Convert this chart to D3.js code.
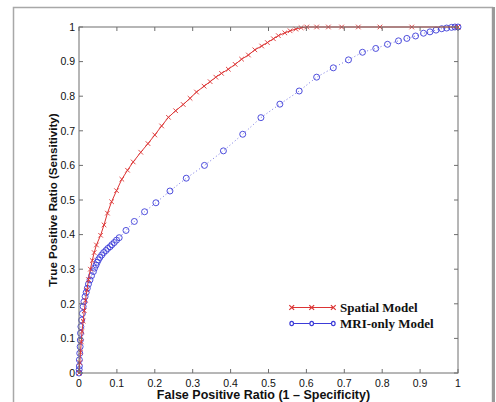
<!DOCTYPE html>
<html><head><meta charset="utf-8">
<script src="https://cdn.jsdelivr.net/npm/d3@7"></script>
<style>body{margin:0;background:#fff}svg{display:block}</style>
</head><body>
<svg id="c" width="496" height="402"></svg>
<script>
const spatialFPR = [0,0.002,0.004,0.006,0.008,0.011,0.014,0.017,0.021,0.025,0.03,0.035,0.04,0.046,0.057,0.066,0.075,0.086,0.099,0.113,0.128,0.143,0.163,0.182,0.2,0.218,0.236,0.255,0.275,0.293,0.31,0.33,0.346,0.361,0.376,0.394,0.412,0.429,0.447,0.464,0.482,0.497,0.513,0.526,0.543,0.557,0.572,0.586,0.601,0.627,0.658,0.693,0.737,0.794,0.878,1];
const spatialTPR = [0,0.03,0.06,0.09,0.12,0.15,0.18,0.21,0.24,0.27,0.3,0.325,0.348,0.37,0.398,0.428,0.462,0.495,0.527,0.56,0.586,0.61,0.638,0.663,0.688,0.714,0.739,0.758,0.776,0.794,0.812,0.829,0.842,0.855,0.866,0.878,0.892,0.907,0.919,0.934,0.945,0.955,0.966,0.975,0.983,0.989,0.994,0.998,1,1,1,1,1,1,1,1];
const mriFPR = [0,0.0005,0.001,0.001,0.002,0.003,0.0035,0.004,0.005,0.007,0.009,0.011,0.013,0.016,0.019,0.022,0.025,0.029,0.033,0.038,0.041,0.045,0.048,0.051,0.055,0.06,0.065,0.071,0.076,0.082,0.087,0.093,0.099,0.106,0.124,0.146,0.173,0.203,0.24,0.283,0.331,0.381,0.432,0.48,0.53,0.581,0.627,0.671,0.711,0.748,0.783,0.814,0.843,0.865,0.888,0.909,0.926,0.942,0.957,0.97,0.983,0.992,1];
const mriTPR = [0,0.01,0.02,0.038,0.057,0.076,0.095,0.115,0.134,0.153,0.172,0.192,0.206,0.221,0.233,0.245,0.257,0.269,0.281,0.293,0.303,0.312,0.32,0.327,0.334,0.341,0.348,0.354,0.36,0.365,0.371,0.377,0.384,0.391,0.412,0.438,0.466,0.492,0.526,0.563,0.6,0.642,0.69,0.738,0.777,0.815,0.855,0.882,0.905,0.927,0.938,0.95,0.96,0.967,0.974,0.982,0.986,0.991,0.995,0.997,0.999,1,1];
const tickValues = [0,0.1,0.2,0.3,0.4,0.5,0.6,0.7,0.8,0.9,1];
const tickLabels = ["0","0.1","0.2","0.3","0.4","0.5","0.6","0.7","0.8","0.9","1"];
const seriesNames = ["Spatial Model","MRI-only Model"];
const xLabel = "False Positive Ratio (1 \u2013 Specificity)";
const yLabel = "True Positive Ratio (Sensitivity)";

const RED = "#dc3434", BLUE = "#3c3cd8", AX = "#6e6e6e";
const svg = d3.select("#c");
const L = 79, R = 458, T = 27, B = 373;
const x = d3.scaleLinear().domain([0,1]).range([L,R]);
const y = d3.scaleLinear().domain([0,1]).range([B,T]);

// outer frame
svg.append("rect").attr("x",13.5).attr("y",7.5).attr("width",479).attr("height",420)
  .attr("fill","none").attr("stroke","#a8a8a8").attr("stroke-width",1.5);
svg.append("line").attr("x1",493.5).attr("x2",493.5).attr("y1",7).attr("y2",402)
  .attr("stroke","#9a9a9a").attr("stroke-width",3);

const spatial = spatialFPR.map((v,i)=>[v,spatialTPR[i]]);
const mri = mriFPR.map((v,i)=>[v,mriTPR[i]]);
const line = d3.line().x(d=>x(d[0])).y(d=>y(d[1]));

const g = svg.append("g");
// MRI dotted line + circles
g.append("path").attr("d",line(mri)).attr("fill","none").attr("stroke",BLUE)
  .attr("stroke-width",0.9).attr("stroke-dasharray","1,2.5").attr("opacity",0.8);
g.selectAll("circle.m").data(mri).join("circle").attr("class","m")
  .attr("cx",d=>x(d[0])).attr("cy",d=>y(d[1])).attr("r",3)
  .attr("fill","none").attr("stroke",BLUE).attr("stroke-width",0.9);
// Spatial line + x markers
g.append("path").attr("d",line(spatial)).attr("fill","none").attr("stroke",RED).attr("stroke-width",1);
const s = 2.3;
g.selectAll("path.x").data(spatial).join("path").attr("class","x")
  .attr("d",d=>{const cx=x(d[0]),cy=y(d[1]);return `M${cx-s},${cy-s}L${cx+s},${cy+s}M${cx-s},${cy+s}L${cx+s},${cy-s}`;})
  .attr("stroke",RED).attr("stroke-width",0.9).attr("fill","none");

// axes box
svg.append("rect").attr("x",L).attr("y",T).attr("width",R-L).attr("height",B-T)
  .attr("fill","none").attr("stroke",AX).attr("stroke-width",1);
const tl = 4;
const ticks = svg.append("g").attr("stroke",AX).attr("stroke-width",1);
tickValues.forEach(v=>{
  ticks.append("line").attr("x1",x(v)).attr("x2",x(v)).attr("y1",B).attr("y2",B-tl);
  ticks.append("line").attr("x1",x(v)).attr("x2",x(v)).attr("y1",T).attr("y2",T+tl);
  ticks.append("line").attr("y1",y(v)).attr("y2",y(v)).attr("x1",L).attr("x2",L+tl);
  ticks.append("line").attr("y1",y(v)).attr("y2",y(v)).attr("x1",R).attr("x2",R-tl);
});
const tf = "Liberation Sans, Arial, sans-serif";
svg.append("g").selectAll("text").data(tickValues).join("text")
  .attr("x",d=>x(d)).attr("y",387).attr("text-anchor","middle")
  .attr("font-family",tf).attr("font-size",10.5).attr("fill","#111")
  .text((d,i)=>tickLabels[i]);
svg.append("g").selectAll("text").data(tickValues).join("text")
  .attr("x",75).attr("y",d=>y(d)+3.7).attr("text-anchor","end")
  .attr("font-family",tf).attr("font-size",10.5).attr("fill","#111")
  .text((d,i)=>tickLabels[i]);

svg.append("text").attr("x",(L+R)/2-5).attr("y",399).attr("text-anchor","middle")
  .attr("font-family",tf).attr("font-weight","bold").attr("font-size",12.5).attr("fill","#111").text(xLabel);
svg.append("text").attr("transform","translate(57,200) rotate(-90)").attr("text-anchor","middle")
  .attr("font-family",tf).attr("font-weight","bold").attr("font-size",11.6).attr("fill","#111").text(yLabel);

// legend
const lx = [291.7,311.7,333.3];
const ly = [307.5,323.5];
const leg = svg.append("g");
leg.append("line").attr("x1",lx[0]).attr("x2",lx[2]).attr("y1",ly[0]).attr("y2",ly[0]).attr("stroke",RED).attr("stroke-width",1.2);
lx.forEach(px=>{
  leg.append("path").attr("d",`M${px-2.4},${ly[0]-2.4}L${px+2.4},${ly[0]+2.4}M${px-2.4},${ly[0]+2.4}L${px+2.4},${ly[0]-2.4}`)
    .attr("stroke",RED).attr("stroke-width",1.2);
});
leg.append("line").attr("x1",lx[0]).attr("x2",lx[2]).attr("y1",ly[1]).attr("y2",ly[1]).attr("stroke",BLUE).attr("stroke-width",1.2);
lx.forEach(px=>{
  leg.append("ellipse").attr("cx",px).attr("cy",ly[1]).attr("rx",1.8).attr("ry",2.2)
    .attr("fill","#fff").attr("stroke",BLUE).attr("stroke-width",1.2);
});
seriesNames.forEach((n,i)=>{
  leg.append("text").attr("x",340).attr("y",ly[i]+4.5).attr("font-family","Liberation Serif, Times New Roman, serif")
    .attr("font-weight","bold").attr("font-size",13).attr("fill","#111").text(n);
});
</script>
</body></html>
